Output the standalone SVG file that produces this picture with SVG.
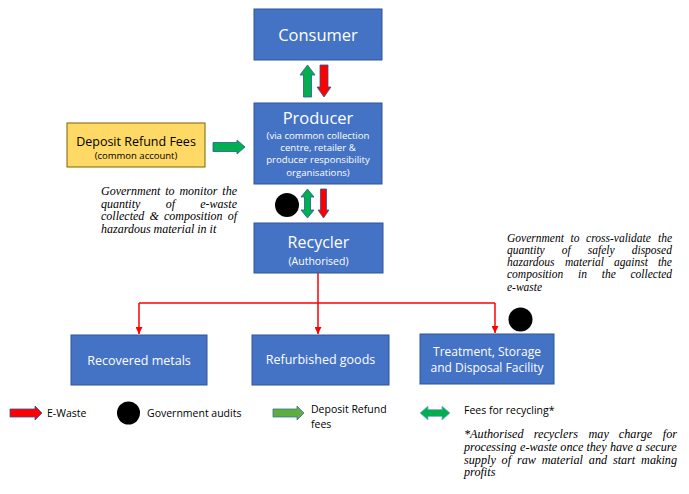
<svg xmlns="http://www.w3.org/2000/svg" width="689" height="494" viewBox="0 0 689 494">
<defs>
<style>
.box{fill:#4472C4;stroke:#2F5597;stroke-width:1}
.t{font-family:"Open Sans","Liberation Sans",sans-serif;fill:#fff;text-anchor:middle}
.it{font-family:"Liberation Serif","DejaVu Serif",serif;font-style:italic;fill:#000}
.lg{font-family:"Open Sans","Liberation Sans",sans-serif;font-size:10.5px;fill:#000}
.g{fill:#00B050;stroke:#2F5597;stroke-width:0.8}
.r{fill:#FF0000;stroke:#2F5597;stroke-width:0.8}
.lgg{fill:#5DAD3F;stroke:#41719C;stroke-width:0.8}
.con{stroke:#FF0000;stroke-width:1.5;fill:none}
</style>
<marker id="ah" viewBox="0 0 10 10" refX="10" refY="5" markerWidth="7" markerHeight="7" markerUnits="userSpaceOnUse" orient="auto">
<path d="M0,0 L10,5 L0,10 Z" fill="#FF0000"/>
</marker>
</defs>
<rect width="689" height="494" fill="#fff"/>

<g id="consumer">
<rect class="box" x="254" y="9" width="128" height="51"/>
<text class="t" x="318" y="41" font-size="16.5">Consumer</text>
</g>

<g id="producer">
<rect class="box" x="254" y="103" width="128" height="81"/>
<text class="t" x="318" y="124" font-size="16.5">Producer</text>
<text class="t" x="318" y="139" font-size="9.6">(via common collection</text>
<text class="t" x="318" y="151.2" font-size="9.6">centre, retailer &amp;</text>
<text class="t" x="318" y="163.4" font-size="9.6">producer responsibility</text>
<text class="t" x="318" y="175.6" font-size="9.6">organisations)</text>
</g>

<g id="deposit">
<rect x="67" y="123" width="138" height="44" fill="#FFD966" stroke="#7F6000" stroke-width="1"/>
<text class="t" x="136" y="146" font-size="12.5" style="fill:#000">Deposit Refund Fees</text>
<text class="t" x="136" y="159" font-size="9.5" style="fill:#000">(common account)</text>
</g>

<g id="recycler">
<rect class="box" x="254" y="223" width="129" height="50"/>
<text class="t" x="318.5" y="248" font-size="16">Recycler</text>
<text class="t" x="318.5" y="264.5" font-size="10.5">(Authorised)</text>
</g>

<g id="metals">
<rect class="box" x="71" y="335" width="136" height="50"/>
<text class="t" x="139" y="365" font-size="12.5">Recovered metals</text>
</g>

<g id="refurb">
<rect class="box" x="252" y="335" width="137" height="50"/>
<text class="t" x="320.5" y="364" font-size="12.5">Refurbished goods</text>
</g>

<g id="tsdf">
<rect class="box" x="420" y="334" width="134" height="50"/>
<text class="t" x="487" y="356" font-size="12">Treatment, Storage</text>
<text class="t" x="487" y="372" font-size="12">and Disposal Facility</text>
</g>

<g id="connectors">
<path class="g" d="M307.5,65 L315,75 L311.5,75 L311.5,97 L303.5,97 L303.5,75 L300,75 Z"/>
<path class="r" d="M324,97 L331,87 L328,87 L328,65 L320,65 L320,87 L317,87 Z"/>
<path class="g" d="M245,147 L237,140 L237,142.5 L213,142.5 L213,151.5 L237,151.5 L237,154 Z"/>
<path class="g" d="M307.5,189 L314,197 L310.5,197 L310.5,210 L314,210 L307.5,218 L301,210 L304.5,210 L304.5,197 L301,197 Z"/>
<path class="r" d="M323.5,218 L329,210 L326.5,210 L326.5,189 L320.5,189 L320.5,210 L318,210 Z"/>
<path class="con" d="M318,273 L318,303"/>
<path class="con" d="M139,303 L495,303"/>
<path class="con" d="M139,303 L139,334" marker-end="url(#ah)"/>
<path class="con" d="M318,303 L318,334" marker-end="url(#ah)"/>
<path class="con" d="M495,303 L495,333" marker-end="url(#ah)"/>
</g>

<g id="audits">
<circle cx="287" cy="205" r="12" fill="#000"/>
<circle cx="520.5" cy="319.5" r="12" fill="#000"/>
</g>

<g id="notes">
<text class="it" font-size="12">
<tspan x="101" y="195">Government</tspan><tspan x="165.2" y="195">to</tspan><tspan x="179.4" y="195">monitor</tspan><tspan x="222.3" y="195">the</tspan>
<tspan x="101" y="207.5">quantity</tspan><tspan x="165.7" y="207.5">of</tspan><tspan x="200.3" y="207.5">e-waste</tspan>
<tspan x="101" y="220">collected</tspan><tspan x="149.4" y="220">&amp;</tspan><tspan x="163.9" y="220">composition</tspan><tspan x="227.7" y="220">of</tspan>
<tspan x="101" y="232.5">hazardous material in it</tspan>
</text>
<text class="it" font-size="11.5">
<tspan x="507" y="241.5">Government</tspan><tspan x="570.5" y="241.5">to</tspan><tspan x="586.1" y="241.5">cross-validate</tspan><tspan x="658" y="241.5">the</tspan>
<tspan x="507" y="253.75">quantity</tspan><tspan x="561.8" y="253.75">of</tspan><tspan x="587.8" y="253.75">safely</tspan><tspan x="631.7" y="253.75">disposed</tspan>
<tspan x="507" y="266">hazardous</tspan><tspan x="565" y="266">material</tspan><tspan x="614" y="266">against</tspan><tspan x="657.9" y="266">the</tspan>
<tspan x="507" y="278.25">composition</tspan><tspan x="578" y="278.25">in</tspan><tspan x="601.7" y="278.25">the</tspan><tspan x="630.5" y="278.25">collected</tspan>
<tspan x="507" y="290.5">e-waste</tspan>
</text>
</g>

<g id="legend">
<path class="r" d="M42,413 L35,406 L35,409 L10,409 L10,417 L35,417 L35,420 Z"/>
<text class="lg" x="47" y="417">E-Waste</text>
<circle cx="128.5" cy="413" r="11.5" fill="#000"/>
<text class="lg" x="147" y="417">Government audits</text>
<path class="lgg" d="M304,413 L297,406 L297,409 L273,409 L273,417 L297,417 L297,420 Z"/>
<text class="lg" x="311" y="413">Deposit Refund</text>
<text class="lg" x="311" y="428">fees</text>
<path class="g" style="stroke:#8FAADC" d="M420,413 L428,406 L428,409.5 L442,409.5 L442,406 L450,413 L442,420 L442,416.5 L428,416.5 L428,420 Z"/>
<text class="lg" x="464" y="414">Fees for recycling*</text>
<text class="it" font-size="12.2">
<tspan x="464" y="438">*Authorised</tspan><tspan x="533.7" y="438">recyclers</tspan><tspan x="588.5" y="438">may</tspan><tspan x="618.8" y="438">charge</tspan><tspan x="662.8" y="438">for</tspan>
<tspan x="464" y="451">processing</tspan><tspan x="520" y="451">e-waste</tspan><tspan x="560.3" y="451">once</tspan><tspan x="586.4" y="451">they</tspan><tspan x="609.9" y="451">have</tspan><tspan x="636" y="451">a</tspan><tspan x="645.2" y="451">secure</tspan>
<tspan x="464" y="463.5">supply</tspan><tspan x="501.6" y="463.5">of</tspan><tspan x="516.9" y="463.5">raw</tspan><tspan x="541.7" y="463.5">material</tspan><tspan x="588.8" y="463.5">and</tspan><tspan x="612.9" y="463.5">start</tspan><tspan x="641.1" y="463.5">making</tspan>
<tspan x="464" y="476">profits</tspan>
</text>
</g>
</svg>
